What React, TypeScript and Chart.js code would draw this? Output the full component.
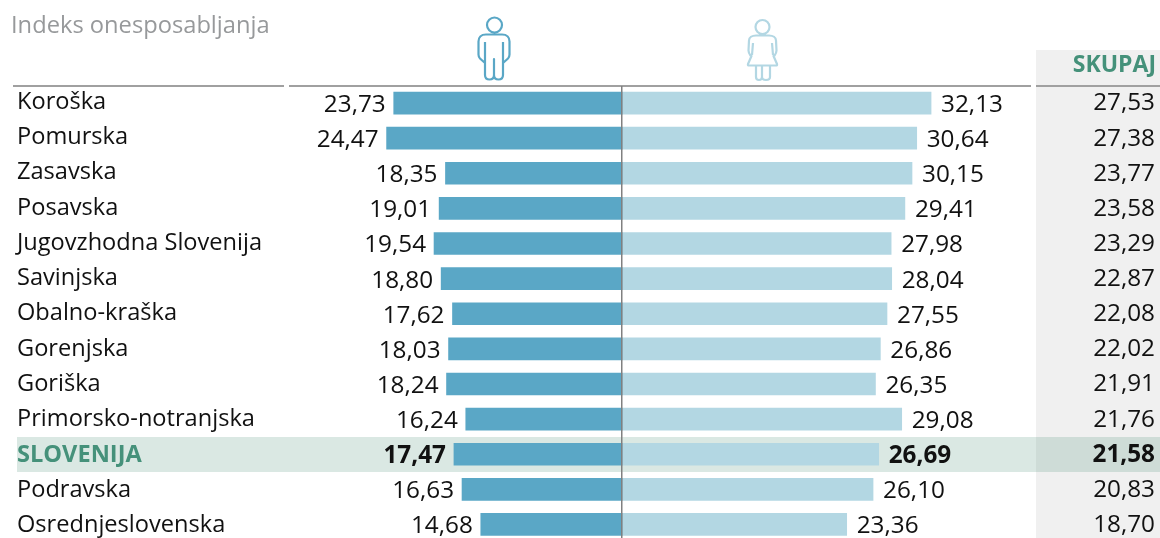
import React, { useEffect, useRef } from "react";
import { Chart, registerables } from "chart.js";

Chart.register(...registerables);

const regions = ["Koroška","Pomurska","Zasavska","Posavska","Jugovzhodna Slovenija","Savinjska","Obalno-kraška","Gorenjska","Goriška","Primorsko-notranjska","SLOVENIJA","Podravska","Osrednjeslovenska"];
const men = [23.73,24.47,18.35,19.01,19.54,18.80,17.62,18.03,18.24,16.24,17.47,16.63,14.68];
const women = [32.13,30.64,30.15,29.41,27.98,28.04,27.55,26.86,26.35,29.08,26.69,26.10,23.36];
const total = [27.53,27.38,23.77,23.58,23.29,22.87,22.08,22.02,21.91,21.76,21.58,20.83,18.70];
const titleText = "Indeks onesposabljanja";
const totalHeader = "SKUPAJ";
const highlight = "SLOVENIJA";

const FONT = '"Open Sans"';
const fmt = (v: number) => v.toFixed(2).replace(".", ",");

const MAN = "M502 25a7.5 7.5 0 1 1-15 0a7.5 7.5 0 1 1 15 0ZM487 34.5h15c5 0 7.5 3 7.5 7v13c0 2-.5 3-1.5 4l-5 4.5v12c0 3-2 4.5-4.5 4.5s-4.5-1.5-4.5-4.5V59V75c0 3-2 4.5-4.5 4.5s-4.5-1.5-4.5-4.5V63l-5-4.5c-1-1-1.5-2-1.5-4v-13c0-4 2.5-7 7.5-7ZM485 42V63M503 42V63";
const WOMAN = "M769.5 27a7 7 0 1 1-14 0a7 7 0 1 1 14 0ZM756 35.5h13c4 0 7 2 7 5l.5 10c0 2-.5 3-2 5l-1 .5 3.5 8c.3 1 0 1.5-1 1.5h-27c-1 0-1.3-.5-1-1.5l3.5-8-1-.5c-1.5-2-2-3-2-5l.5-10c0-3 3-5 7-5ZM753 43L752 55M772 43L773 55M756 66V77c0 2 1 3 3 3s3-1 3-3V66M762 66V77c0 2 1 3 4 3s4-1 4-3V66";

const tablePlugin = {
  id: "tablePlugin",
  beforeDatasetsDraw(chart: any) {
    const { ctx, scales } = chart;
    const y = scales.y;
    ctx.save();
    ctx.fillStyle = "#f0f0f0";
    ctx.fillRect(1036, 50, 124, 500);
    const hi = regions.indexOf(highlight);
    const cy = y.getPixelForValue(hi);
    ctx.fillStyle = "rgba(70,140,115,0.2)";
    ctx.fillRect(17, cy - 17.2, 1143, 35);
    ctx.restore();
  },
  afterDatasetsDraw(chart: any) {
    const { ctx, scales } = chart;
    const y = scales.y;
    const x = scales.x;
    ctx.save();
    // header rules
    ctx.strokeStyle = "#a0a0a0";
    ctx.lineWidth = 2;
    for (const [a, b] of [[13, 284], [289, 1031], [1036, 1160]]) {
      ctx.beginPath(); ctx.moveTo(a, 86); ctx.lineTo(b, 86); ctx.stroke();
    }
    // centre axis
    const zero = Math.round(x.getPixelForValue(0)) - 0.25;
    ctx.strokeStyle = "#808080";
    ctx.lineWidth = 1.5;
    ctx.beginPath(); ctx.moveTo(zero, 86); ctx.lineTo(zero, 540); ctx.stroke();

    // icons
    ctx.lineWidth = 2.2;
    ctx.lineJoin = "round";
    ctx.strokeStyle = "#5aa7c6";
    ctx.stroke(new Path2D(MAN));
    ctx.strokeStyle = "#b3d7e3";
    ctx.stroke(new Path2D(WOMAN));

    // texts
    ctx.textBaseline = "middle";
    ctx.fillStyle = "#97999b";
    ctx.textAlign = "left";
    ctx.font = `23.7px ${FONT}`;
    ctx.fillText(titleText, 11, 26);
    ctx.fillStyle = "#45917a";
    ctx.textAlign = "right";
    ctx.font = `bold 23px ${FONT}`;
    ctx.fillText(totalHeader, 1156, 65);

    regions.forEach((name, i) => {
      const cy = y.getPixelForValue(i);
      const isHi = name === highlight;
      const weight = isHi ? "bold " : "";
      ctx.font = `${weight}23.6px ${FONT}`;
      ctx.textAlign = "left";
      ctx.fillStyle = isHi ? "#45917a" : "#111";
      ctx.fillText(name, 17, cy - 1.2 + i * 0.2);
      ctx.font = `${weight}24.3px ${FONT}`;
      ctx.fillStyle = "#111";
      ctx.textAlign = "right";
      ctx.fillText(fmt(men[i]), x.getPixelForValue(-men[i]) - 8, cy + 2);
      ctx.textAlign = "left";
      ctx.fillText(fmt(women[i]), x.getPixelForValue(women[i]) + 10, cy + 2);
      ctx.textAlign = "right";
      ctx.fillText(fmt(total[i]), 1155, cy + 0.5);
    });
    ctx.restore();
  },
};

export default function App() {
  const ref = useRef<HTMLCanvasElement>(null);
  useEffect(() => {
    const chart = new Chart(ref.current!, {
      type: "bar",
      data: {
        labels: regions,
        datasets: [
          { label: "Moški", data: men.map((v) => -v), backgroundColor: "#5aa7c6", barThickness: 22, stack: "s" },
          { label: "Ženske", data: women, backgroundColor: "#b3d7e3", barThickness: 22, stack: "s" },
        ],
      },
      options: {
        indexAxis: "y",
        animation: false,
        responsive: false,
        layout: { padding: { top: 85.5, left: 0, right: 0, bottom: 0 } },
        plugins: { legend: { display: false }, tooltip: { enabled: false }, title: { display: false } },
        scales: {
          x: { display: false, stacked: true, min: -64.66, max: 55.93 },
          y: { display: false, stacked: true },
        },
      },
      plugins: [tablePlugin],
    } as any);
    return () => chart.destroy();
  }, []);
  return (
    <div style={{ position: "absolute", left: 0, top: 0, width: 1160, height: 538, overflow: "hidden", background: "#fff" }}>
      <canvas ref={ref} width={1160} height={542} style={{ display: "block" }} />
    </div>
  );
}
